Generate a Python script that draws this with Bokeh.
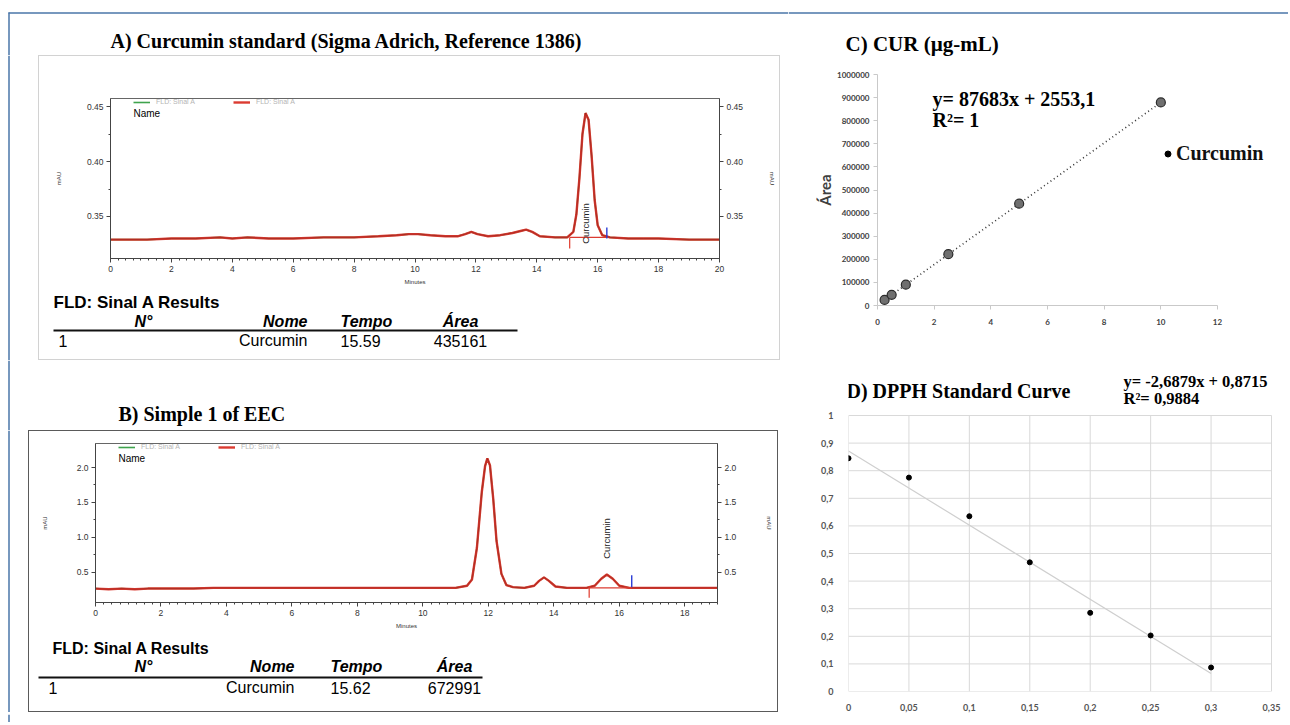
import math
from bokeh.plotting import figure
from bokeh.layouts import row, column
from bokeh.models import (Label, LinearAxis, FixedTicker, NumeralTickFormatter, Legend,
                          LegendItem, Range1d)
from bokeh.embed import file_html
from bokeh.resources import INLINE

# ---------------- data ----------------
# A) Curcumin standard chromatogram (minutes, mAU)
a_time = [0, 0.6, 1.2, 2.0, 2.8, 3.6, 4.0, 4.5, 5.2, 6.0, 7.0, 8.0, 8.8, 9.4, 9.8,
          10.1, 10.5, 11.0, 11.4, 11.65, 11.85, 12.05, 12.4, 12.8, 13.2, 13.5, 13.65,
          13.85, 14.1, 14.6, 15.0, 15.2, 15.3, 15.4, 15.5, 15.6, 15.7, 15.8, 15.9, 16.0,
          16.15, 16.4, 17.0, 17.5, 18.0, 19.0, 20.0]
a_signal = [0.329, 0.329, 0.329, 0.330, 0.330, 0.331, 0.330, 0.331, 0.330, 0.330, 0.331,
            0.331, 0.332, 0.333, 0.334, 0.334, 0.333, 0.332, 0.332, 0.334, 0.336, 0.334,
            0.332, 0.333, 0.335, 0.337, 0.338, 0.336, 0.332, 0.331, 0.331, 0.336, 0.352,
            0.385, 0.425, 0.444, 0.438, 0.405, 0.365, 0.342, 0.333, 0.331, 0.330, 0.330,
            0.330, 0.329, 0.329]
a_peak_time = 15.6
a_peak_label_y = 0.3436
a_int_start = [15.08, 0.321, 0.331]   # time, tick bottom, tick top
a_int_end = [16.3, 0.330, 0.340]
a_int_base = 0.331
a_yticks = [0.35, 0.40, 0.45]
a_xticks = [0, 2, 4, 6, 8, 10, 12, 14, 16, 18, 20]
a_table = ["1", "Curcumin", "15.59", "435161"]

# B) Sample 1 of EEC chromatogram
b_time = [0, 0.4, 0.8, 1.2, 1.6, 2.0, 3.0, 3.6, 4.5, 6.0, 8.0, 10.0, 11.0, 11.35, 11.5,
          11.65, 11.8, 11.9, 11.97, 12.05, 12.15, 12.25, 12.4, 12.55, 12.75, 13.1, 13.4,
          13.55, 13.7, 13.85, 14.05, 14.4, 15.0, 15.25, 15.45, 15.62, 15.8, 16.0, 16.3,
          17.0, 18.0, 19.0]
b_signal = [0.27, 0.26, 0.27, 0.26, 0.27, 0.27, 0.27, 0.28, 0.28, 0.28, 0.28, 0.28, 0.28,
            0.31, 0.40, 0.85, 1.65, 2.02, 2.13, 2.03, 1.55, 0.95, 0.48, 0.32, 0.29, 0.28,
            0.31, 0.38, 0.43, 0.38, 0.30, 0.28, 0.28, 0.31, 0.41, 0.47, 0.41, 0.31, 0.28,
            0.28, 0.28, 0.28]
b_peak_time = 15.6
b_peak_label_y = 0.986
b_int_start = [15.08, 0.14, 0.30]
b_int_end = [16.38, 0.29, 0.46]
b_int_base = 0.28
b_yticks = [0.5, 1.0, 1.5, 2.0]
b_xticks = [0, 2, 4, 6, 8, 10, 12, 14, 16, 18]
b_table = ["1", "Curcumin", "15.62", "672991"]

table_headers = ["N°", "Nome", "Tempo", "Área"]

# C) Curcumin calibration curve
c_conc = [0.25, 0.5, 1, 2.5, 5, 10]
c_area = [24000, 46000, 90000, 222000, 441000, 879000]
c_xticks = [0, 2, 4, 6, 8, 10, 12]
c_yticks = [0, 100000, 200000, 300000, 400000, 500000, 600000, 700000, 800000, 900000, 1000000]

# D) DPPH standard curve
d_conc = [0, 0.05, 0.1, 0.15, 0.2, 0.25, 0.3]
d_abs = [0.845, 0.775, 0.635, 0.468, 0.285, 0.203, 0.087]
d_fit_x = [0, 0.3]
d_fit_y = [0.8715, 0.0652]
d_xticks = [0, 0.05, 0.1, 0.15, 0.2, 0.25, 0.3, 0.35]
d_xtick_labels = ["0", "0,05", "0,1", "0,15", "0,2", "0,25", "0,3", "0,35"]
d_yticks = [0, 0.1, 0.2, 0.3, 0.4, 0.5, 0.6, 0.7, 0.8, 0.9, 1]
d_ytick_labels = ["0", "0,1", "0,2", "0,3", "0,4", "0,5", "0,6", "0,7", "0,8", "0,9", "1"]

SANS = "Liberation Sans"
SERIF = "Liberation Serif"
CAL = "Lato"
FRAME_BLUE = "#4a76a8"


# ---------------- helpers ----------------
def make_fig(w, h, origin, frame, xr, yr):
    ox, oy = origin
    L, T, R, B = frame
    p = figure(width=w, height=h, x_range=Range1d(*xr), y_range=Range1d(*yr),
               output_backend="svg", toolbar_location=None, title=None, frame_align=False,
               min_border_left=L - ox, min_border_right=ox + w - R,
               min_border_top=T - oy, min_border_bottom=oy + h - B)
    p.grid.visible = False
    p.background_fill_color = "white"
    p.border_fill_color = "white"
    return p


def text_fig(w, h, origin):
    """A plain drawing area whose data coordinates equal page pixels (y downwards)."""
    ox, oy = origin
    p = figure(width=w, height=h, x_range=Range1d(ox, ox + w), y_range=Range1d(oy + h, oy),
               output_backend="svg", toolbar_location=None, title=None, frame_align=False,
               x_axis_location=None, y_axis_location=None, min_border=0)
    p.grid.visible = False
    p.outline_line_color = None
    p.background_fill_color = "white"
    p.border_fill_color = "white"
    return p


def tlabel(p, xp, yp, text, size, font=SANS, style="normal", color="#000000", align="left"):
    p.add_layout(Label(x=xp, y=yp, text=text, text_font=font, text_font_size=f"{size}px",
                       text_font_style=style, text_color=color, text_align=align,
                       text_baseline="middle"))


def flabel(p, fr, xp, yp, text, size, font=SANS, style="normal", color="#000000", align="left"):
    L, T, R, B = fr
    p.add_layout(Label(x=xp - L, y=B - yp, x_units="screen", y_units="screen", text=text,
                       text_font=font, text_font_size=f"{size}px", text_font_style=style,
                       text_color=color, text_align=align, text_baseline="middle"))


def blue_left(p, y0, y1):
    p.line([8.5, 8.5], [y0, y1], line_color=FRAME_BLUE, line_width=1.5)


def blue_top(p, x0, x1):
    p.line([x0, x1], [12.5, 12.5], line_color=FRAME_BLUE, line_width=1.5)


def style_chrom_axis(ax):
    ax.axis_line_color = "#444444"
    ax.major_tick_line_color = "#444444"
    ax.minor_tick_line_color = "#444444"
    ax.major_tick_out = 4
    ax.major_tick_in = 0
    ax.minor_tick_out = 2
    ax.minor_tick_in = 0
    ax.major_label_text_font = SANS
    ax.major_label_text_font_size = "8.5px"
    ax.major_label_text_color = "#333333"
    ax.major_label_standoff = 3
    ax.axis_label_text_font = SANS
    ax.axis_label_text_font_size = "6px"
    ax.axis_label_text_font_style = "normal"
    ax.axis_label_text_color = "#333333"


def chromatogram(w, h, origin, frame, xr, yr, t, s, yticks, yfmt, xticks, peak_t, peak_y,
                 int_start, int_end, int_base, ystand_l, ystand_r):
    p = make_fig(w, h, origin, frame, xr, yr)
    p.outline_line_color = "#666666"
    p.outline_line_width = 1
    ymin = [(yticks[i] + yticks[i + 1]) / 2 for i in range(len(yticks) - 1)]
    xa = p.xaxis[0]
    xa.ticker = FixedTicker(ticks=xticks,
                            minor_ticks=[i * 0.25 for i in range(int(xr[1] * 4) + 1)])
    xa.axis_label = "Minutes"
    xa.axis_label_standoff = 4
    style_chrom_axis(xa)
    ya = p.yaxis[0]
    ya.ticker = FixedTicker(ticks=yticks, minor_ticks=ymin)
    ya.formatter = NumeralTickFormatter(format=yfmt)
    ya.axis_label = "mAU"
    ya.axis_label_standoff = ystand_l
    style_chrom_axis(ya)
    ra = LinearAxis(ticker=FixedTicker(ticks=yticks, minor_ticks=ymin),
                    formatter=NumeralTickFormatter(format=yfmt), axis_label="mAU",
                    axis_label_standoff=ystand_r)
    style_chrom_axis(ra)
    p.add_layout(ra, "right")
    # two identical "FLD: Sinal A" traces: the green one lies under the red one
    green = p.line(t, s, line_color="#3fa34d", line_width=1.6)
    red = p.line(t, s, line_color="#db3b31", line_width=2.4)
    p.line(t, s, line_color="#6e1512", line_width=0.6, line_alpha=0.7)
    p.line([int_start[0], int_end[0]], [int_base, int_base], line_color="#db3b31", line_width=1.2)
    p.segment(x0=[int_start[0]], y0=[int_start[1]], x1=[int_start[0]], y1=[int_start[2]],
              line_color="#e0392b", line_width=1.2)
    p.segment(x0=[int_end[0]], y0=[int_end[1]], x1=[int_end[0]], y1=[int_end[2]],
              line_color="#2a3cd6", line_width=1.4)
    p.add_layout(Label(x=peak_t, y=peak_y, text="Curcumin", angle=math.pi / 2,
                       text_align="center", text_baseline="middle", text_font=SANS,
                       text_font_size="9.5px", text_color="#222222"))
    L, T, R, B = frame
    leg = Legend(items=[LegendItem(label="FLD: Sinal A", renderers=[green]),
                        LegendItem(label="FLD: Sinal A", renderers=[red])],
                 orientation="horizontal", location=(23, (B - T) - 7),
                 padding=0, margin=0, spacing=38, glyph_width=17, glyph_height=6,
                 label_standoff=6, label_height=6, label_width=10,
                 label_text_font=SANS, label_text_font_size="7px",
                 label_text_color="#b5b5b5", background_fill_alpha=0,
                 border_line_color=None)
    p.add_layout(leg)
    flabel(p, frame, L + 23, T + 15, "Name", 10)
    return p


def table(p, size_title, size, x_title, y_title, y_head, y_line, x_line0, x_line1, y_row,
          x_num, x_nome, x_tempo, x_area_c, x_n_c, values):
    tlabel(p, x_title, y_title, "FLD: Sinal A Results", size_title, style="bold")
    tlabel(p, x_n_c, y_head, table_headers[0], size, style="bold italic", align="center")
    tlabel(p, x_nome, y_head, table_headers[1], size, style="bold italic", align="right")
    tlabel(p, x_tempo, y_head, table_headers[2], size, style="bold italic")
    tlabel(p, x_area_c, y_head, table_headers[3], size, style="bold italic", align="center")
    p.line([x_line0, x_line1], [y_line, y_line], line_color="#111111", line_width=2.2)
    tlabel(p, x_num, y_row, values[0], size)
    tlabel(p, x_nome, y_row, values[1], size, align="right")
    tlabel(p, x_tempo, y_row, values[2], size)
    tlabel(p, x_area_c, y_row, values[3], size, align="center")


# ---------------- left column ----------------
tA = text_fig(788, 55, (0, 0))
blue_top(tA, 8, 788)
blue_left(tA, 12, 55)
tlabel(tA, 110, 40, "A) Curcumin standard (Sigma Adrich, Reference 1386)", 20,
       font=SERIF, style="bold")

frA = (110, 98, 719, 258)
pA = chromatogram(740, 235, (39, 56), frA, (0, 20), (0.3118, 0.4573), a_time, a_signal,
                  a_yticks, "0.00", a_xticks, a_peak_time, a_peak_label_y,
                  a_int_start, a_int_end, a_int_base, 22, 23)
tabA = text_fig(740, 68, (39, 291))
table(tabA, 17, 16, 53, 302, 321, 330, 53, 517, 340, 58, 307, 340, 460, 143, a_table)
boxA = column(pA, tabA, styles={"border": "1px solid #d2d2d2"})
sA = text_fig(38, 305, (0, 55))
blue_left(sA, 55, 360)
sA2 = text_fig(8, 305, (780, 55))
rowA = row(sA, boxA, sA2)

tB = text_fig(788, 70, (0, 360))
blue_left(tB, 360, 430)
tlabel(tB, 118, 413, "B) Simple 1 of EEC", 20, font=SERIF, style="bold")

frB = (95, 443, 717, 602)
pB = chromatogram(748, 200, (29, 431), frB, (0, 19), (0.071, 2.343), b_time, b_signal,
                  b_yticks, "0.0", b_xticks, b_peak_time, b_peak_label_y,
                  b_int_start, b_int_end, b_int_base, 26, 27)
tabB = text_fig(748, 80, (29, 631))
table(tabB, 16, 16, 52, 648, 666, 677, 38, 482, 687, 48, 294, 330, 454, 143, b_table)
boxB = column(pB, tabB, styles={"border": "1px solid #5a5a5a"})
sB = text_fig(28, 282, (0, 430))
blue_left(sB, 430, 712)
sB2 = text_fig(10, 282, (778, 430))
rowB = row(sB, boxB, sB2)

tBot = text_fig(788, 10, (0, 712))
blue_left(tBot, 712, 722)

left = column(tA, rowA, tB, rowB, tBot)

# ---------------- panel C ----------------
tC = text_fig(500, 60, (788, 0))
blue_top(tC, 788, 1288)
tlabel(tC, 845, 43, "C) CUR (µg-mL)", 21, font=SERIF, style="bold")

frC = (877, 74, 1287, 305)
pC = make_fig(500, 310, (788, 60), frC, (0, 410 / (340 / 12)), (0, 1000000))
pC.outline_line_color = None
for ax in (pC.xaxis[0], pC.yaxis[0]):
    ax.axis_line_color = "#c9c9c9"
    ax.major_tick_line_color = "#c9c9c9"
    ax.major_tick_out = 4
    ax.major_tick_in = 0
    ax.minor_tick_line_color = None
    ax.major_label_text_font = CAL
    ax.major_label_text_font_style = "bold"
    ax.major_label_text_font_size = "8px"
    ax.major_label_text_color = "#404040"
pC.xaxis[0].ticker = FixedTicker(ticks=c_xticks)
pC.xaxis[0].bounds = (c_xticks[0], c_xticks[-1])
pC.xaxis[0].major_label_standoff = 9
pC.yaxis[0].ticker = FixedTicker(ticks=c_yticks)
pC.yaxis[0].formatter = NumeralTickFormatter(format="0")
pC.yaxis[0].major_label_standoff = 4
pC.yaxis[0].axis_label = "Área"
pC.yaxis[0].axis_label_text_font = CAL
pC.yaxis[0].axis_label_text_font_style = "bold"
pC.yaxis[0].axis_label_text_font_size = "15px"
pC.yaxis[0].axis_label_text_color = "#404040"
pC.yaxis[0].axis_label_standoff = 0
pC.line([c_conc[0], c_conc[-1]], [c_area[0], c_area[-1]], line_color="#333333",
        line_width=1.6, line_dash="1 3")
c_dot = pC.scatter(c_conc, c_area, size=5, fill_color="black", line_color="black")
pC.scatter(c_conc, c_area, size=9, fill_color="#6f6f6f", line_color="#2b2b2b", line_width=1.2)
legC = Legend(items=[LegendItem(label="Curcumin", renderers=[c_dot])],
              location=(1160 - frC[0], frC[3] - 165), padding=0, margin=0,
              glyph_width=15, glyph_height=15, label_standoff=1, label_height=16,
              label_width=10, label_text_font=SERIF, label_text_font_style="bold",
              label_text_font_size="20px", label_text_color="#111111",
              background_fill_alpha=0, border_line_color=None)
pC.add_layout(legC)
flabel(pC, frC, 932, 98, "y= 87683x + 2553,1", 20, font=SERIF, style="bold")
flabel(pC, frC, 932, 119, "R²= 1", 20, font=SERIF, style="bold")

# ---------------- panel D ----------------
frD = (848, 372, 1288, 691)
pD = make_fig(500, 352, (788, 370), frD, (0, 440 / (423 / 0.35)), (0, 319 / 276))
pD.outline_line_color = None
for ax, tk, lb in ((pD.xaxis[0], d_xticks, d_xtick_labels), (pD.yaxis[0], d_yticks, d_ytick_labels)):
    ax.ticker = FixedTicker(ticks=tk)
    ax.major_label_overrides = {t: l for t, l in zip(tk, lb)}
    ax.axis_line_color = None
    ax.major_tick_line_color = None
    ax.minor_tick_line_color = None
    ax.major_label_text_font = CAL
    ax.major_label_text_font_style = "bold"
    ax.major_label_text_font_size = "9px"
    ax.major_label_text_color = "#555555"
pD.xaxis[0].major_label_standoff = 6
pD.yaxis[0].major_label_standoff = 9
# grid limited to the plotted region, one line per tick
pD.segment(x0=d_xticks, y0=[d_yticks[0]] * len(d_xticks), x1=d_xticks,
           y1=[d_yticks[-1]] * len(d_xticks), line_color="#d9d9d9", line_width=1)
pD.segment(x0=[d_xticks[0]] * len(d_yticks), y0=d_yticks, x1=[d_xticks[-1]] * len(d_yticks),
           y1=d_yticks, line_color="#d9d9d9", line_width=1)
pD.line(d_fit_x, d_fit_y, line_color="#cfcfcf", line_width=1.2)
pD.scatter(d_conc, d_abs, size=5, fill_color="black", line_color="black")
flabel(pD, frD, 846, 390, "D) DPPH Standard Curve", 20, font=SERIF, style="bold")
flabel(pD, frD, 1123, 381, "y= -2,6879x + 0,8715", 16.5, font=SERIF, style="bold")
flabel(pD, frD, 1123, 398, "R²= 0,9884", 16.5, font=SERIF, style="bold")

right = column(tC, pC, pD)
layout = row(left, right)
open("out.html", "w").write(file_html(layout, INLINE))
